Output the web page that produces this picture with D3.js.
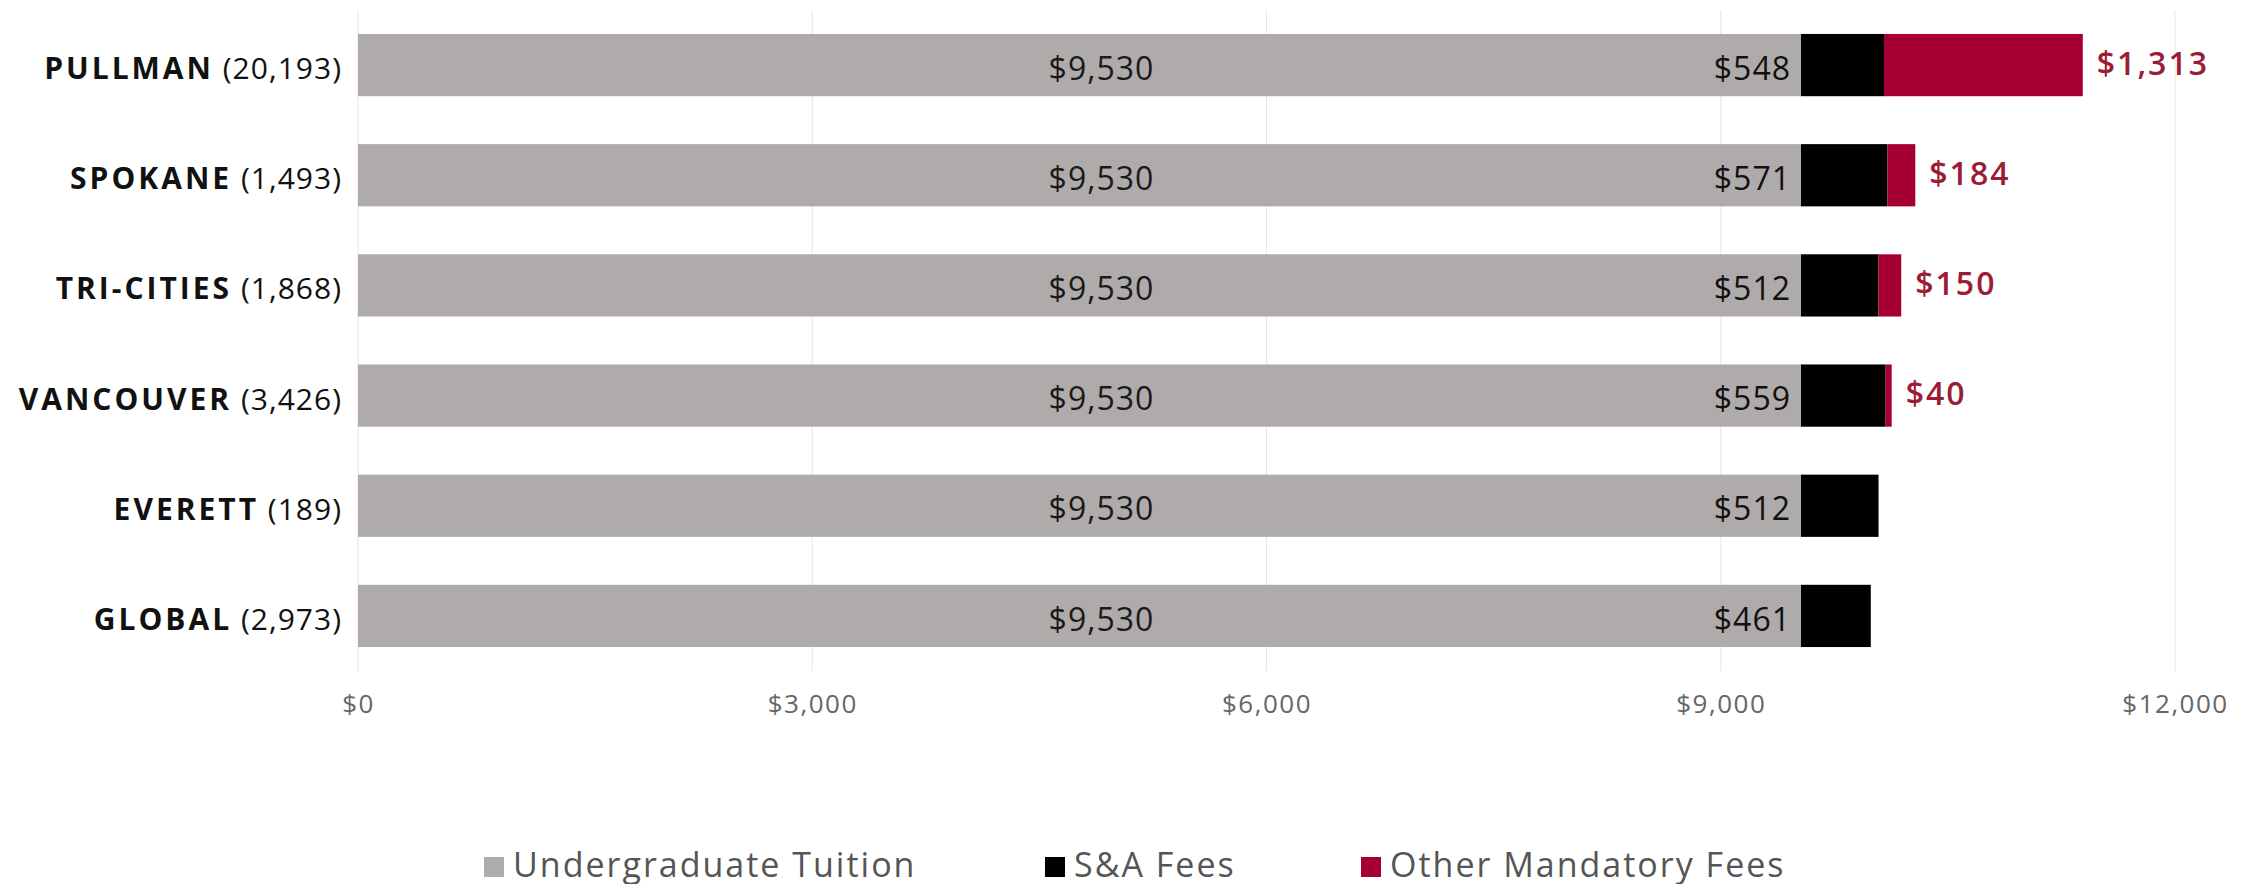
<!DOCTYPE html>
<html>
<head>
<meta charset="utf-8">
<script src="https://cdn.jsdelivr.net/npm/d3@7"></script>
<style>
  body { margin: 0; background: #fff; }
  svg { display: block; font-family: "Open Sans", sans-serif; }
</style>
</head>
<body>
<svg width="2251" height="884"></svg>
<script>
const campuses = ['PULLMAN', 'SPOKANE', 'TRI-CITIES', 'VANCOUVER', 'EVERETT', 'GLOBAL'];
const enrollment = ['20,193', '1,493', '1,868', '3,426', '189', '2,973'];
const tuition = [9530, 9530, 9530, 9530, 9530, 9530];
const saFees = [548, 571, 512, 559, 512, 461];
const otherFees = [1313, 184, 150, 40, 0, 0];
const seriesNames = ['Undergraduate Tuition', 'S&A Fees', 'Other Mandatory Fees'];
const xTicks = [0, 3000, 6000, 9000, 12000];

const colors = ['#afabaa', '#000000', '#a50031'];
const labelRed = '#9b1c35';

const svg = d3.select('svg');
const plotLeft = 358, plotRight = 2175, plotTop = 10, plotBottom = 671;

const x = d3.scaleLinear().domain([0, 12000]).range([plotLeft, plotRight]);
const y = d3.scaleBand().domain(campuses).range([plotTop, plotBottom])
            .paddingInner(0.435).paddingOuter(0.2175);

const fmt = d3.format('$,');

// grid
svg.append('g').attr('class', 'grid')
   .selectAll('line').data(xTicks).enter()
   .append('line')
   .attr('x1', d => x(d)).attr('x2', d => x(d))
   .attr('y1', plotTop).attr('y2', plotBottom)
   .attr('stroke', '#e6e6e6').attr('stroke-width', 1);

// stacked data
const rows = campuses.map((c, i) => ({ campus: c, vals: [tuition[i], saFees[i], otherFees[i]] }));
const stack = d3.stack().keys([0, 1, 2]).value((d, k) => d.vals[k]);
const layers = stack(rows);

const barsG = svg.append('g').attr('class', 'bars');
layers.forEach((layer, k) => {
    barsG.append('g')
         .selectAll('rect').data(layer.filter(d => d[1] > d[0])).enter()
         .append('rect')
         .attr('x', d => x(d[0]))
         .attr('width', d => x(d[1]) - x(d[0]))
         .attr('y', d => y(d.data.campus))
         .attr('height', y.bandwidth())
         .attr('fill', colors[k]);
});

// labels
const labelsG = svg.append('g').attr('class', 'labels')
                   .style('font-size', '32px').style('letter-spacing', '1px');
const mid = d => y(d.data.campus) + y.bandwidth() / 2;

labelsG.selectAll('text.tuition').data(layers[0]).enter()
       .append('text').attr('class', 'tuition')
       .attr('x', d => (x(d[0]) + x(d[1])) / 2 + 22)
       .attr('y', mid).attr('dy', '0.46em')
       .attr('text-anchor', 'middle').attr('fill', '#1a1a1a')
       .text(d => fmt(d.data.vals[0]));

labelsG.selectAll('text.sa').data(layers[1]).enter()
       .append('text').attr('class', 'sa')
       .attr('x', d => x(d[0]) - 10)
       .attr('y', mid).attr('dy', '0.46em')
       .attr('text-anchor', 'end').attr('fill', '#111')
       .text(d => fmt(d.data.vals[1]));

labelsG.selectAll('text.other').data(layers[2].filter(d => d[1] > d[0])).enter()
       .append('text').attr('class', 'other')
       .attr('x', d => x(d[1]) + 14)
       .attr('y', mid).attr('dy', '0.3em')
       .attr('fill', labelRed).style('font-weight', 600).style('letter-spacing', '2px')
       .text(d => fmt(d.data.vals[2]));

// category labels
const catG = svg.append('g').attr('class', 'categories');
campuses.forEach((c, i) => {
    const t = catG.append('text')
        .attr('x', plotLeft - 16)
        .attr('y', y(c) + y.bandwidth() / 2 + 14)
        .attr('text-anchor', 'end')
        .style('font-size', '30px').attr('fill', '#111');
    t.append('tspan').text(c).style('font-weight', 700).style('letter-spacing', '3px');
    t.append('tspan').text(' (' + enrollment[i] + ')').style('letter-spacing', '1px');
});

// x axis
const xAxis = d3.axisBottom(x).tickValues(xTicks).tickFormat(fmt).tickSize(0).tickPadding(0);
const axisG = svg.append('g').attr('transform', `translate(0,${plotBottom + 42})`).call(xAxis);
axisG.select('.domain').remove();
axisG.selectAll('text').style('font-size', '26px').style('font-family', '"Open Sans", sans-serif')
     .style('letter-spacing', '1.5px')
     .attr('fill', '#666').attr('dy', '0');

// legend
const legendX = [484, 1045, 1361];
const legend = svg.append('g').attr('class', 'legend');
seriesNames.forEach((n, i) => {
    const g = legend.append('g').attr('transform', `translate(${legendX[i]},0)`);
    g.append('rect').attr('x', 0).attr('y', 857).attr('width', 20).attr('height', 20).attr('fill', colors[i]);
    g.append('text').attr('x', 29).attr('y', 877)
     .style('font-size', '34px').style('letter-spacing', '2px')
     .attr('fill', '#555').text(n);
});
</script>
</body>
</html>
